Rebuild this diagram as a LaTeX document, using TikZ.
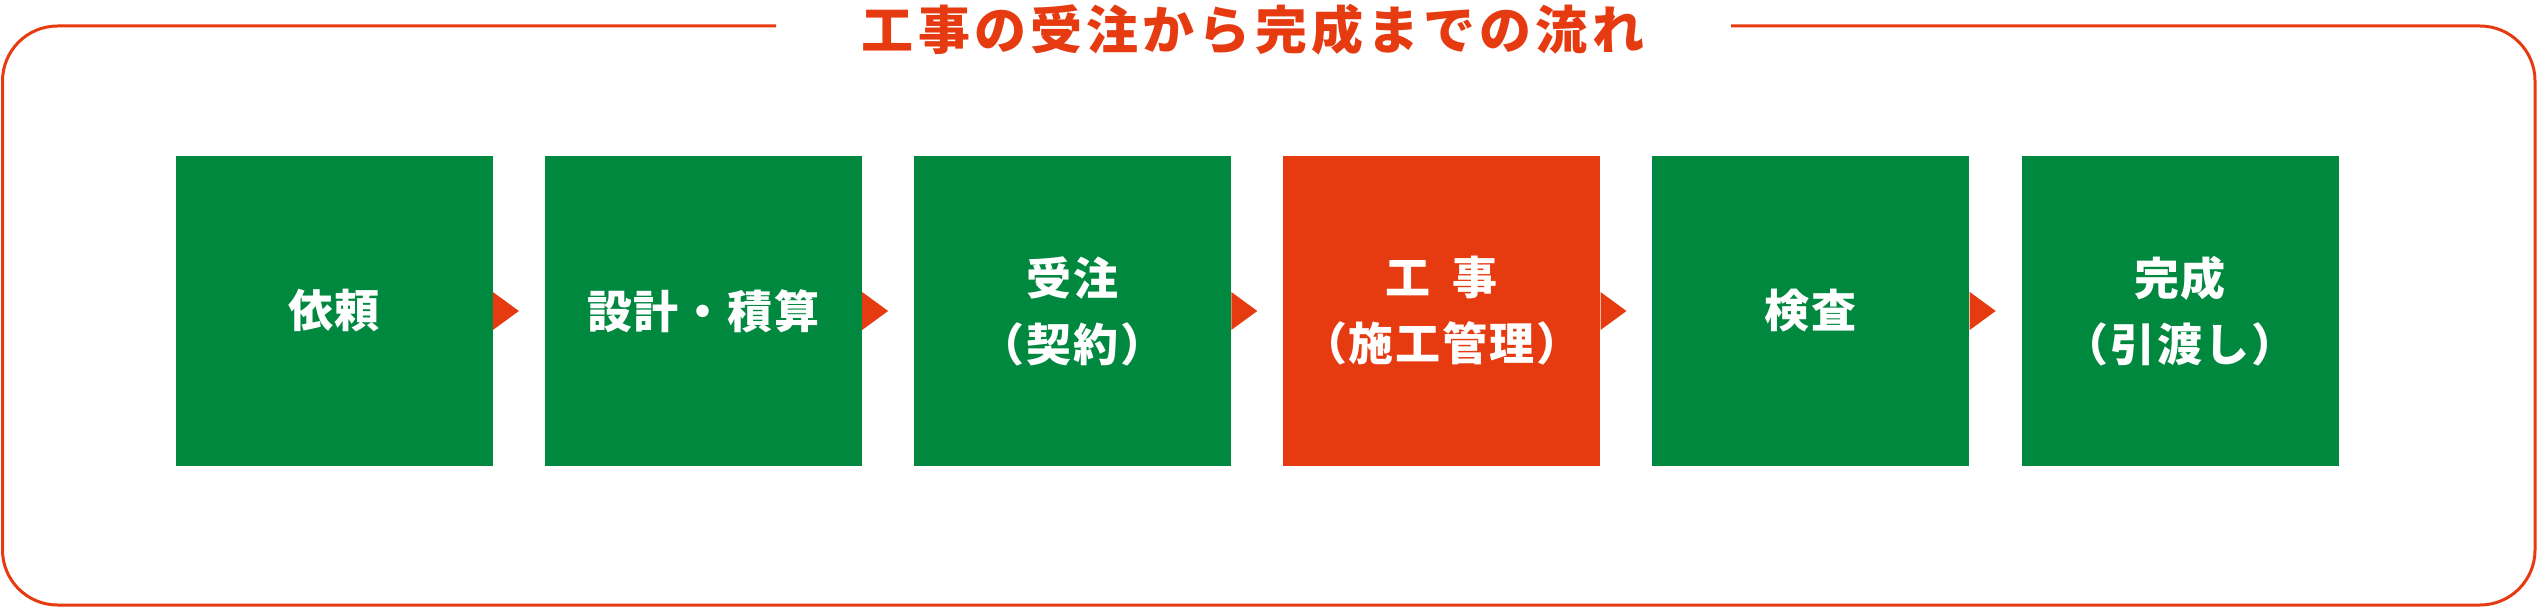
\documentclass[tikz,border=0pt]{standalone}
\usepackage{fontspec}
\setmainfont{Noto Sans CJK JP}
\usepackage{tikz}
\usetikzlibrary{positioning}

\definecolor{flowgreen}{RGB}{0,136,63}
\definecolor{flowred}{RGB}{230,58,17}

\newcommand\titlefont{\bfseries\fontsize{26}{30}\selectfont\addfontfeature{LetterSpace=8}}
\newcommand\boxfont{\bfseries\fontsize{22.5}{33}\selectfont\addfontfeature{LetterSpace=4}}

\tikzset{
  stepbox/.style={fill=flowgreen, text=white, minimum width=158.5pt,
    minimum height=155pt, inner sep=0pt, align=center, font=\boxfont},
  tab/.style={fill=flowred},
}

\begin{document}
\begin{tikzpicture}[x=0.5pt, y=-0.5pt]
  \useasboundingbox (0,0) rectangle (2537,609);

  \newcommand\G{25.7pt};

  \node[font=\titlefont, text=flowred] (title) at (1253,30) {工事の受注から完成までの流れ};

  %% frame, open at the top for the title
  \draw[flowred, line width=1.5pt, rounded corners=27.5pt]
    (1731,26) -- (2535,26) -- (2535,605) -- (2.5,605) -- (2.5,26) -- (776,26);

  \node[stepbox] (b1) at (334,311) {依頼};
  \node[stepbox, right=\G of b1] (b2) {設計・積算};
  \node[stepbox, right=\G of b2] (b3) {受注\\（契約）};
  \node[stepbox, fill=flowred, right=\G of b3] (b4) {工\hspace{.5em}事\\（施工管理）};
  \node[stepbox, right=\G of b4] (b5) {検査};
  \node[stepbox, right=\G of b5] (b6) {完成\\（引渡し）};

  %% tabs b1 -> b6
  \fill[tab]([yshift=9.5pt]b1.east) -- ([xshift=13pt]b1.east) -- ([yshift=-9.5pt]b1.east) -- cycle;
  \fill[tab]([yshift=9.5pt]b2.east) -- ([xshift=13pt]b2.east) -- ([yshift=-9.5pt]b2.east) -- cycle;
  \fill[tab]([yshift=9.5pt]b3.east) -- ([xshift=13pt]b3.east) -- ([yshift=-9.5pt]b3.east) -- cycle;
  \fill[tab]([yshift=9.5pt]b4.east) -- ([xshift=13pt]b4.east) -- ([yshift=-9.5pt]b4.east) -- cycle;
  \fill[tab]([yshift=9.5pt]b5.east) -- ([xshift=13pt]b5.east) -- ([yshift=-9.5pt]b5.east) -- cycle;

\end{tikzpicture}
\end{document}
